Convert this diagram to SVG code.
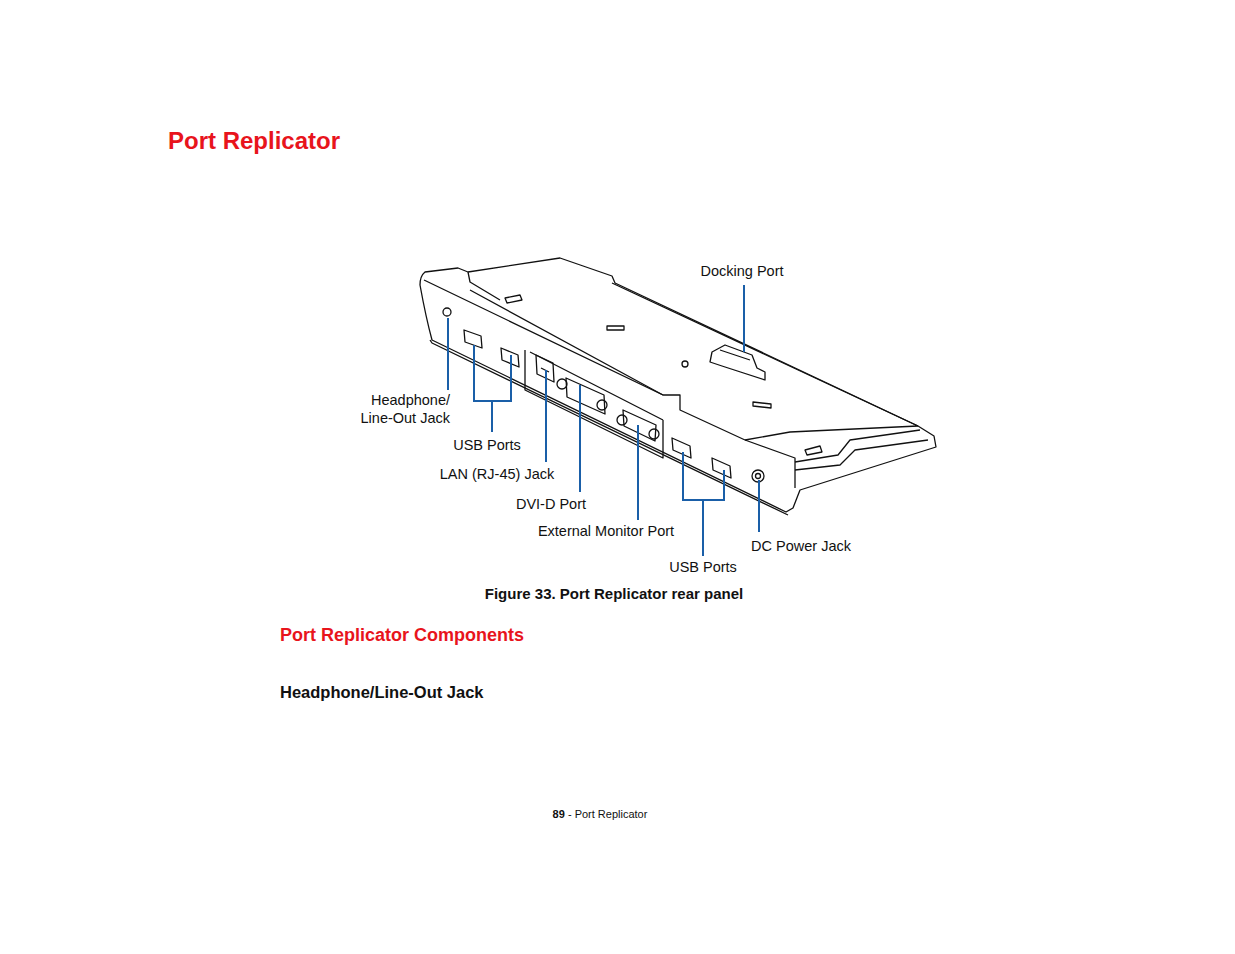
<svg xmlns="http://www.w3.org/2000/svg" width="1235" height="954" viewBox="0 0 1235 954">
<style>
.t{font-family:"Liberation Sans",Arial,sans-serif;font-size:14.5px;fill:#111}
.d{fill:none;stroke:#111;stroke-width:1.3;stroke-linejoin:round}
.c{fill:none;stroke:#1a5fa8;stroke-width:2}
.red{font-family:"Liberation Sans",Arial,sans-serif;font-weight:bold;fill:#e8141c}
.b{font-family:"Liberation Sans",Arial,sans-serif;font-weight:bold;fill:#111}
</style>
<rect width="1235" height="954" fill="#fff"/>
<text class="red" x="168" y="149" font-size="24">Port Replicator</text>
<g id="device">
<path class="d" fill="#fff" d="M425,272 L458,268 L468,272 L560,258 L612,276 L615,283 L918,426 L934,436 L936,447 L800,490 L793,508 L786,512 L432,340 Q426,318 420,285 Q420,276 425,272 Z"/>
<path class="d" d="M424,280 L663,395 L680,395 L680,410 L745,440 L795,458 L795,488"/>
<path class="d" d="M468,272 L470,282 L500,300 M612,283 L918,426 M745,440 L790,432 L918,426 M470,290 L663,395"/>
<path class="d" d="M795,462 L838,455 L850,440 L920,430 M795,470 L840,465 L855,450 L928,440"/>
<path class="d" d="M430,340 L432,343 L788,515"/>
<path class="d" d="M525,350 L525,390 L663,458 L663,420 M530,352 L663,420"/>
<circle class="d" cx="447" cy="312" r="4"/>
<path class="d" d="M464,330 L481,336 L482,348 L465,342 Z M501,348 L518,355 L519,367 L502,360 Z M672,438 L690,446 L691,458 L673,450 Z M712,458 L730,466 L731,478 L713,470 Z"/>
<path class="d" d="M536,355 L553,363 L554,382 L537,374 Z M541,368 L549,372"/>
<path class="d" d="M566,378 L604,395 L605,414 L567,397 Z"/>
<circle class="d" cx="562" cy="384" r="5"/><circle class="d" cx="602" cy="405" r="5"/>
<path class="d" d="M623,410 L656,425 L655,441 L624,426 Z"/>
<circle class="d" cx="622" cy="420" r="5"/><circle class="d" cx="654" cy="434" r="5"/>
<circle class="d" cx="758" cy="476" r="6"/><circle class="d" cx="758" cy="476" r="2.5"/>
<path class="d" d="M712,352 L725,345 L752,355 L757,368 L765,372 L765,380 L722,366 L710,362 Z M720,350 L750,360"/>
<path class="d" d="M505,298 L520,295 L522,300 L507,303 Z M607,326 L624,326 L624,330 L607,330 Z M753,402 L771,404 L771,408 L753,406 Z M805,450 L820,446 L822,452 L807,455 Z"/>
<circle class="d" cx="685" cy="364" r="3"/>
</g>
<g id="connectors">
<path class="c" d="M744,285 L744,352"/>
<path class="c" d="M448,318 L448,390"/>
<path class="c" d="M474,345 L474,401 L511,401 L511,355 M492,401 L492,432"/>
<path class="c" d="M546,370 L546,462"/>
<path class="c" d="M580,385 L580,492"/>
<path class="c" d="M638,425 L638,520"/>
<path class="c" d="M683,452 L683,500 L724,500 L724,470 M703,500 L703,556"/>
<path class="c" d="M759,480 L759,532"/>
</g>
<g id="labels">
<text class="t" x="742" y="276" text-anchor="middle">Docking Port</text>
<text class="t" x="450" y="405" text-anchor="end">Headphone/</text>
<text class="t" x="450" y="423" text-anchor="end">Line-Out Jack</text>
<text class="t" x="487" y="450" text-anchor="middle">USB Ports</text>
<text class="t" x="497" y="479" text-anchor="middle">LAN (RJ-45) Jack</text>
<text class="t" x="551" y="509" text-anchor="middle">DVI-D Port</text>
<text class="t" x="606" y="536" text-anchor="middle">External Monitor Port</text>
<text class="t" x="801" y="551" text-anchor="middle">DC Power Jack</text>
<text class="t" x="703" y="572" text-anchor="middle">USB Ports</text>
</g>
<text class="b" x="614" y="599" font-size="15" text-anchor="middle">Figure 33.  Port Replicator rear panel</text>
<text class="red" x="280" y="641" font-size="18">Port Replicator Components</text>
<text class="b" x="280" y="698" font-size="16.5">Headphone/Line-Out Jack</text>
<text x="600" y="818" font-family="Liberation Sans,Arial,sans-serif" font-size="11" text-anchor="middle" fill="#111"><tspan font-weight="bold">89</tspan> - Port Replicator</text>
</svg>
